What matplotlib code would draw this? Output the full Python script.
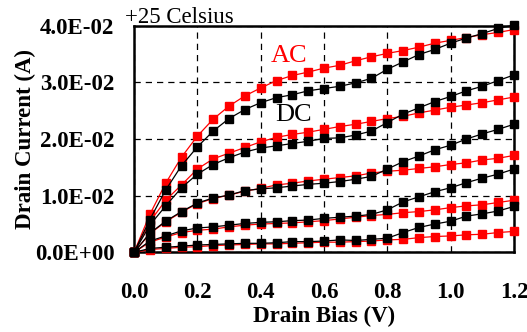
#!/usr/bin/python3

from matplotlib import pyplot as plt
import numpy as np
import matplotlib

matplotlib.rc('font', family='Liberation Serif', size=16.5)

# drain bias sweep (V)
vd = [0.0, 0.05, 0.1, 0.15, 0.2, 0.25, 0.3, 0.35, 0.4, 0.45, 0.5, 0.55, 0.6,
      0.65, 0.7, 0.75, 0.8, 0.85, 0.9, 0.95, 1.0, 1.05, 1.1, 1.15, 1.2]

# drain current in mA, five gate steps, AC (pulsed) and DC
ac1 = [0, 6.7, 12.2, 16.8, 20.5, 23.5, 25.8, 27.6, 29.0, 30.3, 31.2, 31.8, 32.5,
       33.0, 33.8, 34.5, 35.1, 35.6, 36.2, 36.9, 37.4, 37.9, 38.4, 38.8, 39.3]
dc1 = [0, 5.8, 11.0, 15.3, 18.6, 21.4, 23.6, 25.2, 26.4, 27.3, 27.8, 28.5, 28.9,
       29.3, 29.9, 30.7, 32.3, 33.6, 34.9, 35.8, 36.9, 37.8, 38.6, 39.5, 40.1]
ac2 = [0, 5.4, 9.2, 11.9, 14.7, 16.5, 17.5, 18.5, 19.5, 20.3, 20.8, 21.2, 21.7,
       22.2, 22.6, 23.1, 23.6, 24.0, 24.6, 25.1, 25.6, 26.0, 26.4, 26.9, 27.4]
dc2 = [0, 4.8, 8.2, 11.4, 13.8, 15.5, 16.7, 17.7, 18.4, 18.8, 19.2, 19.6, 20.1,
       20.2, 20.7, 21.4, 22.9, 24.4, 25.5, 26.6, 27.5, 28.5, 29.3, 30.3, 31.3]
ac3 = [0, 3.3, 5.4, 7.1, 8.6, 9.5, 10.1, 10.8, 11.3, 11.9, 12.2, 12.6, 12.9,
       13.2, 13.5, 14.0, 14.3, 14.5, 14.8, 15.1, 15.5, 15.8, 16.3, 16.6, 17.1]
dc3 = [0, 3.4, 5.5, 7.2, 8.7, 9.6, 10.1, 10.9, 11.2, 11.4, 11.7, 12.0, 12.2,
       12.5, 12.9, 13.4, 14.7, 16.0, 17.0, 18.1, 18.9, 20.0, 20.9, 21.7, 22.6]
ac4 = [0, 1.8, 2.7, 3.5, 3.9, 4.1, 4.5, 4.8, 5.0, 5.1, 5.2, 5.4, 5.6,
       5.9, 6.2, 6.5, 6.7, 7.0, 7.2, 7.5, 7.9, 8.2, 8.4, 8.8, 9.2]
dc4 = [0, 2.0, 2.9, 3.8, 4.3, 4.5, 4.8, 5.1, 5.3, 5.4, 5.6, 5.7, 6.0,
       6.2, 6.4, 6.7, 7.5, 8.9, 9.8, 10.7, 11.4, 12.3, 13.1, 13.8, 14.7]
ac5 = [0, 0.5, 0.7, 0.9, 1.0, 1.2, 1.3, 1.4, 1.5, 1.5, 1.6, 1.7, 1.8,
       1.8, 1.9, 2.0, 2.2, 2.3, 2.6, 2.8, 2.9, 3.1, 3.2, 3.5, 3.7]
dc5 = [0, 0.7, 0.9, 1.1, 1.3, 1.4, 1.5, 1.6, 1.6, 1.7, 1.9, 1.9, 2.0,
       2.2, 2.1, 2.3, 2.5, 3.5, 4.4, 5.0, 5.5, 6.4, 6.8, 7.3, 8.1]

ac = [ac1, ac2, ac3, ac4, ac5]
dc = [dc1, dc2, dc3, dc4, dc5]

xticks = [0.0, 0.2, 0.4, 0.6, 0.8, 1.0, 1.2]
yticks = [0.0, 0.01, 0.02, 0.03, 0.04]
ylabels = ['0.0E+00', '1.0E-02', '2.0E-02', '3.0E-02', '4.0E-02']

fig = plt.figure(figsize=(5.27, 3.32), dpi=100)
ax = fig.add_axes([0.2543, 0.2398, 0.7210, 0.6831])

for y in ac:
    ax.plot(vd, np.array(y) * 1e-3, color='red', lw=0.9, marker='s',
            ms=5.8, mec='red', mfc='red', clip_on=False, zorder=3)
for y in dc:
    ax.plot(vd, np.array(y) * 1e-3, color='black', lw=0.9, marker='s',
            ms=5.8, mec='black', mfc='black', clip_on=False, zorder=4)

ax.set_xlim(0, 1.2)
ax.set_ylim(0, 0.04)
ax.set_xticks(xticks)
ax.set_xticklabels(['%.1f' % v for v in xticks], fontweight='bold')
ax.set_yticks(yticks)
ax.set_yticklabels(ylabels, fontweight='bold')
ax.tick_params(axis='x', length=0, pad=21)
ax.tick_params(axis='y', length=0, pad=14)
ax.grid(True, color='black', ls=(0, (5, 4)), lw=0.9)
ax.set_axisbelow(True)
for s in ax.spines.values():
    s.set_linewidth(1.8)

ax.set_xlabel('Drain Bias (V)', fontweight='bold')
ax.xaxis.set_label_coords(0.5, -0.235)
ax.set_ylabel('Drain Current (A)', fontweight='bold')
ax.yaxis.set_label_coords(-0.258, 0.5)

ax.text(0.409, 0.866, 'AC', color='red', fontsize=19, ha='center', va='center',
        transform=ax.transAxes)
ax.text(0.42, 0.604, 'DC', color='black', fontsize=19, ha='center', va='center',
        transform=ax.transAxes)
fig.text(125 / 527, 1 - 23 / 332, '+25 Celsius', fontsize=16.5, ha='left',
         va='baseline')

plt.savefig('out.png', dpi=100)
